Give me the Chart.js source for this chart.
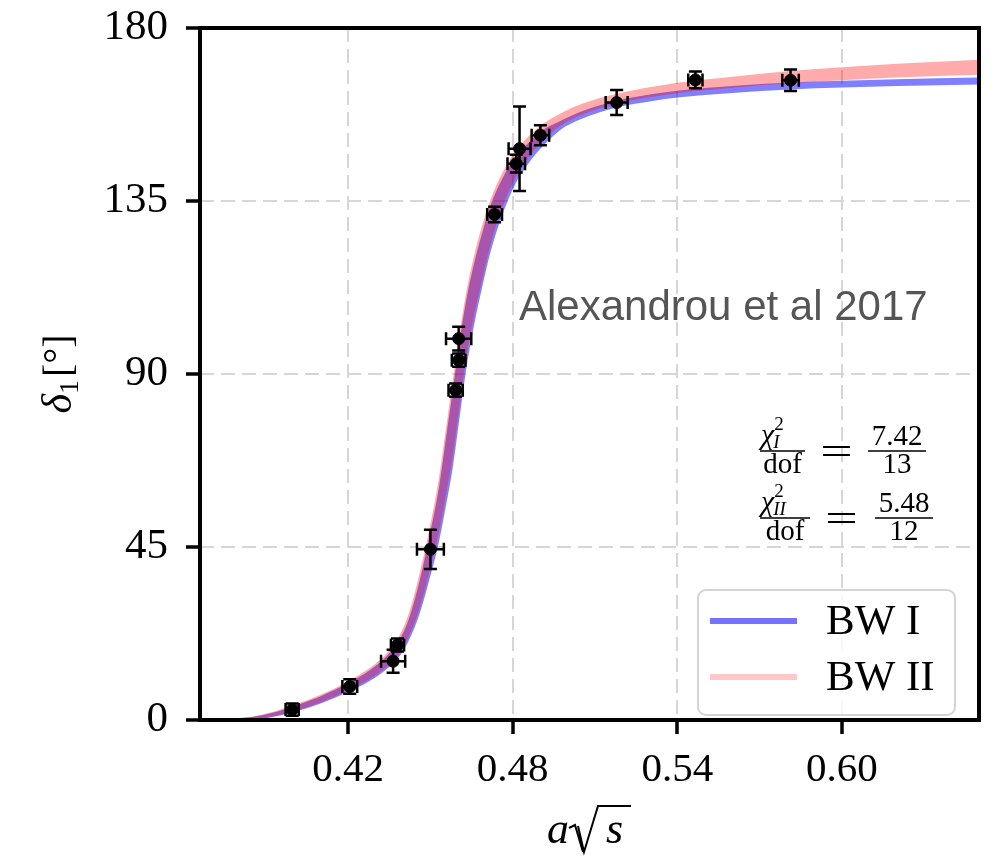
<!DOCTYPE html>
<html>
<head>
<meta charset="utf-8">
<script src="https://cdn.jsdelivr.net/npm/chart.js@4.4.1/dist/chart.umd.min.js"></script>
<style>
  html, body { margin: 0; padding: 0; background: #fff; }
  #wrap { width: 999px; height: 856px; position: relative; }
</style>
</head>
<body>
<div id="wrap"><canvas id="phaseChart"></canvas></div>
<script>
// lattice phase shift points (a*sqrt(s), delta_1 in degrees) with errors
const xVals = [0.3996, 0.4206, 0.4380, 0.4364, 0.4500, 0.4592, 0.4603, 0.4603, 0.4734, 0.4813, 0.4825, 0.4901, 0.5179, 0.5466, 0.5813];
const yVals = [2.7, 8.7, 19.5, 15.3, 44.4, 85.8, 93.6, 99.2, 131.5, 144.7, 148.6, 152.1, 160.6, 166.5, 166.4];
const xErr = [0.0024, 0.0027, 0.0024, 0.0044, 0.0049, 0.0026, 0.0025, 0.0046, 0.0027, 0.0032, 0.0040, 0.0032, 0.0040, 0.0026, 0.0030];
const yErr = [1.6, 1.9, 1.7, 3.0, 5.1, 1.7, 1.7, 3.1, 2.0, 2.3, 11.0, 2.6, 3.25, 2.2, 2.8];

// Breit-Wigner fit bands, sampled on a common grid
const bandX = [0.378, 0.385, 0.392, 0.400, 0.410, 0.420, 0.428, 0.434, 0.438, 0.442, 0.446, 0.450, 0.453, 0.456, 0.458, 0.4605, 0.463, 0.466, 0.469, 0.472, 0.476, 0.481, 0.486, 0.490, 0.497, 0.505, 0.518, 0.531, 0.540, 0.560, 0.581, 0.600, 0.620, 0.650];
const bwILow = [0, 0.1, 0.7, 2.0, 4.3, 7.3, 10.2, 13.2, 15.9, 20.5, 27.5, 37.5, 46, 57, 65, 78, 91, 103, 113, 122, 131, 139.5, 145, 148.5, 153.3, 156.3, 159.3, 161.0, 161.9, 163.1, 164.0, 164.5, 164.9, 165.3];
const bwIHigh = [0.3, 0.8, 1.8, 3.6, 6.2, 9.6, 13.0, 16.6, 20.0, 26, 36, 49, 60, 75, 85, 98, 109, 119, 127, 134, 140.5, 146.5, 150.3, 153, 155.7, 158.3, 161.1, 162.8, 163.7, 164.9, 165.8, 166.3, 166.7, 167.1];
const bwIILow = [0, 0.2, 0.8, 2.2, 4.6, 7.7, 10.7, 13.8, 16.6, 21.5, 29, 39.5, 48.5, 60, 68, 81, 94, 105.5, 115, 124, 133, 141, 146.5, 150, 154.4, 157.4, 160.3, 162.1, 163.05, 164.45, 165.6, 166.4, 167.1, 167.85];
const bwIIHigh = [0.4, 0.9, 2.0, 3.9, 6.6, 10.1, 13.6, 17.3, 21, 27.5, 38, 51, 62.5, 77.5, 87.5, 100, 111, 121, 129, 135.5, 142, 148, 152, 154.5, 157.6, 160.2, 162.9, 164.7, 165.75, 167.35, 168.8, 169.8, 170.7, 171.75];

const xTicks = [0.42, 0.48, 0.54, 0.60];
const yTicks = [0, 45, 90, 135, 180];
const legendLabels = ['BW I', 'BW II'];

const SERIF = '"Liberation Serif", "DejaVu Serif", serif';
const blueFill = 'rgba(0, 0, 255, 0.5)';
const redFill = 'rgba(255, 0, 0, 0.33)';

function pts(xs, ys) {
    return xs.map((x, i) => ({ x: x, y: ys[i] }));
}

function bandSet(label, ys, fill, color) {
    return {
        label: label,
        data: pts(bandX, ys),
        borderWidth: 0,
        borderColor: 'rgba(0,0,0,0)',
        backgroundColor: color,
        pointRadius: 0,
        cubicInterpolationMode: 'monotone',
        fill: fill
    };
}

// error bars with caps, drawn through the chart scales
const errorBars = {
    id: 'errorBars',
    afterDatasetsDraw(chart) {
        const { ctx, scales: { x, y } } = chart;
        const cap = 6.5;
        ctx.save();
        ctx.strokeStyle = '#000';
        ctx.lineWidth = 2.5;
        xVals.forEach((xv, i) => {
            const px = x.getPixelForValue(xv);
            const py = y.getPixelForValue(yVals[i]);
            const x0 = x.getPixelForValue(xv - xErr[i]);
            const x1 = x.getPixelForValue(xv + xErr[i]);
            const y0 = y.getPixelForValue(yVals[i] - yErr[i]);
            const y1 = y.getPixelForValue(yVals[i] + yErr[i]);
            ctx.beginPath();
            ctx.moveTo(x0, py); ctx.lineTo(x1, py);
            ctx.moveTo(px, y0); ctx.lineTo(px, y1);
            ctx.moveTo(x0, py - cap); ctx.lineTo(x0, py + cap);
            ctx.moveTo(x1, py - cap); ctx.lineTo(x1, py + cap);
            ctx.moveTo(px - cap, y0); ctx.lineTo(px + cap, y0);
            ctx.moveTo(px - cap, y1); ctx.lineTo(px + cap, y1);
            ctx.stroke();
        });
        ctx.restore();
    }
};

// frame, axis titles, annotation, fit quality and legend
const decorations = {
    id: 'decorations',
    afterDraw(chart) {
        const { ctx, chartArea: a } = chart;
        ctx.save();

        ctx.strokeStyle = '#000';
        ctx.lineWidth = 4;
        ctx.strokeRect(a.left, a.top, a.right - a.left, a.bottom - a.top);

        // y title: delta_1 [deg]
        ctx.save();
        ctx.translate(57, 374);
        ctx.rotate(-Math.PI / 2);
        ctx.fillStyle = '#000';
        ctx.textBaseline = 'alphabetic';
        ctx.font = 'italic 42px ' + SERIF;
        const wD = ctx.measureText('δ').width;
        ctx.font = '28px ' + SERIF;
        const w1 = ctx.measureText('1').width;
        ctx.font = '40px ' + SERIF;
        const wB = ctx.measureText('[°]').width;
        let tx = -(wD + w1 + 3 + wB) / 2;
        ctx.font = 'italic 42px ' + SERIF;
        ctx.fillText('δ', tx, 14);
        tx += wD;
        ctx.font = '28px ' + SERIF;
        ctx.fillText('1', tx, 21);
        tx += w1 + 3;
        ctx.font = '40px ' + SERIF;
        ctx.fillText('[°]', tx, 14);
        ctx.restore();

        // x title: a sqrt(s)
        ctx.fillStyle = '#000';
        ctx.strokeStyle = '#000';
        ctx.font = 'italic 44px ' + SERIF;
        const base = 843;
        ctx.fillText('a', 547, base);
        ctx.beginPath();
        ctx.lineWidth = 2;
        ctx.moveTo(569, base - 15);
        ctx.lineTo(575, base - 18);
        ctx.lineTo(583, base + 9);
        ctx.moveTo(578, base - 17);
        ctx.lineTo(584, base + 9);
        ctx.lineTo(598, base - 37);
        ctx.lineTo(631, base - 37);
        ctx.stroke();
        ctx.fillText('s', 606, base);

        // annotation
        ctx.fillStyle = '#555';
        ctx.font = '42px "Liberation Sans", Arial, sans-serif';
        ctx.fillText('Alexandrou et al 2017', 519, 320);

        // chi^2 / dof lines
        ctx.fillStyle = '#000';
        ctx.strokeStyle = '#000';
        const chi = [
            { sub: 'I', num: '7.42', den: '13', y: 451, wl: 45, eq: 823, rx: 868 },
            { sub: 'II', num: '5.48', den: '12', y: 518, wl: 50, eq: 828, rx: 875 }
        ];
        chi.forEach(c => {
            const lx = 760;
            ctx.font = 'italic 30px ' + SERIF;
            ctx.fillText('χ', lx + 1, c.y - 7);
            const wc = ctx.measureText('χ').width;
            ctx.font = '19px ' + SERIF;
            ctx.fillText('2', lx + wc + 1, c.y - 21);
            ctx.font = 'italic 19px ' + SERIF;
            ctx.fillText(c.sub, lx + wc, c.y - 3);
            ctx.lineWidth = 1.5;
            ctx.beginPath();
            ctx.moveTo(lx, c.y); ctx.lineTo(lx + c.wl, c.y);
            ctx.moveTo(c.rx, c.y); ctx.lineTo(c.rx + 58, c.y);
            ctx.stroke();
            // equals sign
            ctx.lineWidth = 2;
            ctx.beginPath();
            ctx.moveTo(c.eq, c.y - 4); ctx.lineTo(c.eq + 27, c.y - 4);
            ctx.moveTo(c.eq, c.y + 4); ctx.lineTo(c.eq + 27, c.y + 4);
            ctx.stroke();
            ctx.textAlign = 'center';
            ctx.font = '29px ' + SERIF;
            ctx.fillText('dof', lx + c.wl / 2, c.y + 22);
            ctx.fillText(c.num, c.rx + 29, c.y - 6);
            ctx.fillText(c.den, c.rx + 29, c.y + 22);
            ctx.textAlign = 'left';
        });

        // legend box
        const bx = 698, by = 590, bw = 257, bh = 125, r = 8;
        ctx.beginPath();
        ctx.moveTo(bx + r, by);
        ctx.arcTo(bx + bw, by, bx + bw, by + bh, r);
        ctx.arcTo(bx + bw, by + bh, bx, by + bh, r);
        ctx.arcTo(bx, by + bh, bx, by, r);
        ctx.arcTo(bx, by, bx + bw, by, r);
        ctx.closePath();
        ctx.fillStyle = 'rgba(255,255,255,0.8)';
        ctx.fill();
        ctx.strokeStyle = '#d4d4d4';
        ctx.lineWidth = 2;
        ctx.stroke();

        const legendColors = ['rgba(0, 0, 255, 0.55)', 'rgba(255, 0, 0, 0.22)'];
        const rowsY = [621, 677];
        legendLabels.forEach((lab, i) => {
            ctx.strokeStyle = legendColors[i];
            ctx.lineWidth = 6;
            ctx.beginPath();
            ctx.moveTo(710, rowsY[i]);
            ctx.lineTo(797, rowsY[i]);
            ctx.stroke();
            ctx.fillStyle = '#000';
            ctx.font = '43px ' + SERIF;
            ctx.textBaseline = 'middle';
            ctx.fillText(lab, 826, rowsY[i] + 2);
            ctx.textBaseline = 'alphabetic';
        });

        ctx.restore();
    }
};

const gridOpts = {
    color: '#d6d6d6',
    lineWidth: 2,
    tickColor: '#000',
    tickWidth: 3.5,
    tickLength: 14,
    tickBorderDash: []
};

const ctx = document.getElementById('phaseChart').getContext('2d');
const phaseChart = new Chart(ctx, {
    type: 'line',
    data: {
        datasets: [
            {
                label: 'data',
                data: pts(xVals, yVals),
                showLine: false,
                pointRadius: 6,
                pointBackgroundColor: '#000',
                pointBorderColor: '#000',
                borderColor: '#000'
            },
            bandSet('BW II low', bwIILow, false, redFill),
            bandSet('BW II', bwIIHigh, '-1', redFill),
            bandSet('BW I low', bwILow, false, blueFill),
            bandSet('BW I', bwIHigh, '-1', blueFill)
        ]
    },
    options: {
        responsive: true,
        maintainAspectRatio: false,
        animation: false,
        layout: { padding: { top: 28, right: 20, left: 0, bottom: 0 } },
        plugins: {
            legend: { display: false },
            tooltip: { enabled: false }
        },
        scales: {
            x: {
                type: 'linear',
                min: 0.366,
                max: 0.65,
                afterBuildTicks: s => { s.ticks = xTicks.map(v => ({ value: v })); },
                afterFit: s => { s.height = 136; s.paddingLeft = 0; s.paddingRight = 0; },
                border: { display: false, dash: [14, 7] },
                grid: gridOpts,
                ticks: {
                    color: '#000',
                    padding: 12,
                    font: { family: SERIF, size: 41 },
                    callback: v => v.toFixed(2)
                }
            },
            y: {
                min: 0,
                max: 180,
                afterBuildTicks: s => { s.ticks = yTicks.map(v => ({ value: v })); },
                afterFit: s => { s.width = 200; s.paddingTop = 0; s.paddingBottom = 0; },
                border: { display: false, dash: [14, 7] },
                grid: gridOpts,
                ticks: {
                    color: '#000',
                    padding: 18,
                    font: { family: SERIF, size: 43 },
                    callback: v => String(v)
                }
            }
        }
    },
    plugins: [errorBars, decorations]
});
</script>
</body>
</html>
